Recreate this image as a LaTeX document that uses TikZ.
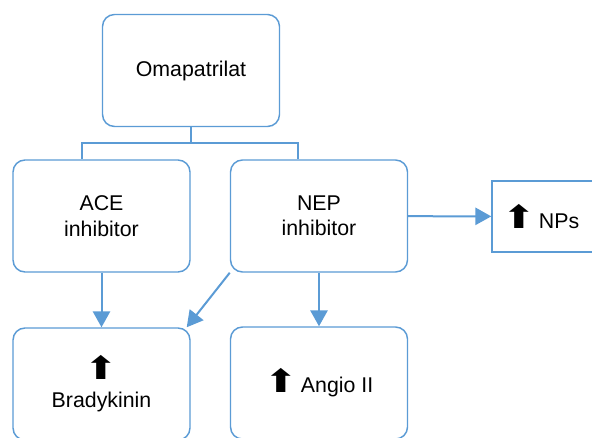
\documentclass[tikz,border=0pt]{standalone}
\usepackage{graphicx}
\usepackage{fontspec}
\setmainfont{Liberation Sans}
\newfontfamily\symfont{DejaVu Sans}
\usetikzlibrary{arrows.meta,calc,positioning}
\definecolor{boxblue}{HTML}{5B9BD5}
\newcommand{\upar}{\scalebox{1.25}[1]{\symfont\fontsize{24}{24}\selectfont ⬆}}

\begin{document}
\begin{tikzpicture}[x=0.75pt,y=-0.75pt,
  every node/.style={font=\fontsize{16}{19}\selectfont,align=center},
  box/.style={draw=boxblue,line width=1.1pt,rounded corners=9pt,fill=white,
    minimum width=132.75pt,minimum height=84pt,inner sep=0pt},
  sqbox/.style={draw=boxblue,line width=1.1pt,fill=white,
    minimum width=81pt,minimum height=53pt,inner sep=0pt},
  link/.style={draw=boxblue,line width=1.1pt},
  arr/.style={draw=boxblue,line width=1.5pt,-{Triangle[length=12pt,width=13pt]}}]
\useasboundingbox (0,0) rectangle (592,438);
\clip (0,0) rectangle (592,438);
% boxes
\node[box] (oma) at (191,70.5) {Omapatrilat};
\node[box] (ace) at (101.5,216) {ACE\\inhibitor};
\node[box] (nep) at (319,216) {NEP\\inhibitor};
\node[sqbox] (nps) at (546,216.5) {\upar\hspace{2pt}NPs\hspace*{7.5pt}};
\node[box] (brady) at (101.5,384) {\upar\\[2pt]Bradykinin};
\node[box] (angio) at (319,383) {\upar\hspace{2pt}Angio II};
% links
\draw[link] (oma.south) -- ++(0,16) -| ($(ace.north)+(-19.5,0)$);
\draw[link] (oma.south) -- ++(0,16) -| ($(nep.north)+(-21,0)$);
\draw[arr] (ace) to (brady);
\draw[arr] (nep) to (angio);
\draw[arr] (nep.south west) to ($(brady.north east)+(-4,0)$);
\draw[arr] (nep) to (nps);
\end{tikzpicture}
\end{document}
